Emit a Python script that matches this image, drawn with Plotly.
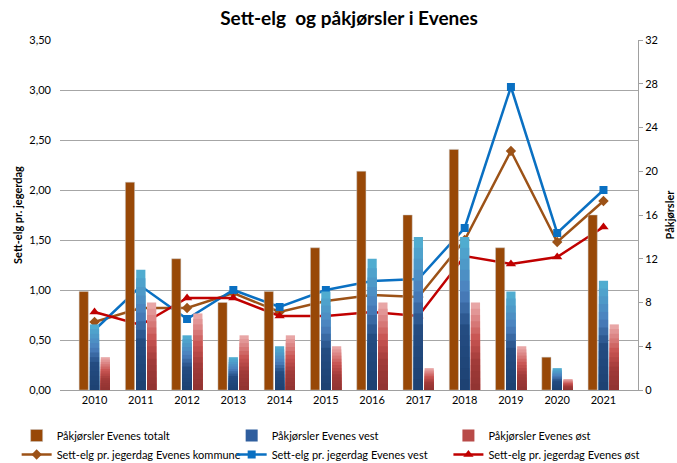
import plotly.graph_objects as go

years = ["2010", "2011", "2012", "2013", "2014", "2015", "2016", "2017", "2018", "2019", "2020", "2021"]
pak_totalt = [9, 19, 12, 8, 9, 13, 20, 16, 22, 13, 3, 16]
pak_vest = [6, 11, 5, 3, 4, 9, 12, 14, 14, 9, 2, 10]
pak_ost = [3, 8, 7, 5, 5, 4, 8, 2, 8, 4, 1, 6]
sett_kommune = [0.68, 0.82, 0.82, 0.97, 0.78, 0.89, 0.95, 0.93, 1.50, 2.39, 1.48, 1.89]
sett_vest = [0.60, 1.04, 0.71, 1.00, 0.83, 1.00, 1.09, 1.11, 1.62, 3.03, 1.57, 2.00]
sett_ost = [0.78, 0.65, 0.92, 0.92, 0.74, 0.74, 0.78, 0.74, 1.34, 1.26, 1.33, 1.63]

FONT = "Lato"
N = 14


def lerp(c1, c2, t):
    return tuple(int(round(a + (b - a) * t)) for a, b in zip(c1, c2))


def grad(stops, t):
    for (p1, c1), (p2, c2) in zip(stops, stops[1:]):
        if p1 <= t <= p2:
            return lerp(c1, c2, (t - p1) / (p2 - p1) if p2 > p1 else 0)
    return stops[-1][1]


blue_stops = [(0.0, (80, 172, 208)), (0.35, (76, 128, 190)), (0.6, (36, 76, 130)), (1.0, (30, 66, 115))]
red_stops = [(0.0, (232, 166, 166)), (0.4, (200, 84, 82)), (0.7, (160, 58, 56)), (1.0, (146, 52, 50))]

fig = go.Figure()

fig.add_trace(go.Bar(
    x=years, y=pak_totalt, name="Påkjørsler Evenes totalt", yaxis="y2",
    offsetgroup="tot", marker=dict(color="#984807", line=dict(width=0.6, color="rgba(200,200,200,0.8)")),
    legend="legend", legendrank=1,
))


def add_grad(values, stops, name, group, legend, legend_color):
    for k in range(N):
        frac = (N - k) / N
        t = k / (N - 1)
        c = grad(stops, t)
        fig.add_trace(go.Bar(
            x=years, y=[v * frac for v in values], yaxis="y2", offsetgroup=group,
            marker=dict(color="rgb(%d,%d,%d)" % c, line=dict(width=0)),
            showlegend=False, hoverinfo="skip",
        ))
    fig.add_trace(go.Bar(
        x=years, y=[0 for _ in values], yaxis="y2", offsetgroup=group, name=name,
        marker=dict(color=legend_color, line=dict(width=0)), legend=legend, legendrank=1,
        hoverinfo="skip",
    ))


add_grad(pak_vest, blue_stops, "Påkjørsler Evenes vest", "vest", "legend2", "#2F5E9E")
add_grad(pak_ost, red_stops, "Påkjørsler Evenes øst", "ost", "legend3", "#B84A48")

fig.add_trace(go.Scatter(
    x=years, y=sett_kommune, name="Sett-elg pr. jegerdag Evenes kommune", mode="lines+markers",
    line=dict(color="#9C5217", width=2.5), marker=dict(symbol="diamond", size=8, color="#9C5217"),
    legend="legend", legendrank=2,
))
fig.add_trace(go.Scatter(
    x=years, y=sett_vest, name="Sett-elg pr. jegerdag Evenes vest", mode="lines+markers",
    line=dict(color="#0A70C2", width=2.5), marker=dict(symbol="square", size=8, color="#0A70C2"),
    legend="legend2", legendrank=2,
))
fig.add_trace(go.Scatter(
    x=years, y=sett_ost, name="Sett-elg pr. jegerdag Evenes øst", mode="lines+markers",
    line=dict(color="#C00000", width=2.5), marker=dict(symbol="triangle-up", size=9, color="#C00000"),
    legend="legend3", legendrank=2,
))

leg_common = dict(orientation="v", yanchor="top", y=-0.1 + 4 / 350, xanchor="left",
                  font=dict(family=FONT, size=11, color="#000000"), bgcolor="rgba(0,0,0,0)",
                  itemwidth=30, tracegroupgap=0, traceorder="normal")

fig.update_layout(
    width=677, height=463,
    margin=dict(l=60, r=39, t=40, b=73, autoexpand=False),
    paper_bgcolor="white", plot_bgcolor="white",
    separators=",.",
    barmode="group", bargap=0.3, bargroupgap=0.15,
    font=dict(family=FONT, size=11, color="#000000"),
    title=dict(text="Sett-elg\u00a0 og påkjørsler i Evenes", x=0.5, xref="paper", xanchor="center",
               y=1 - 18 / 463, yanchor="middle", font=dict(family=FONT, size=19, color="#000000", weight="bold")),
    xaxis=dict(type="category", showgrid=False, showline=True, linecolor="#A0A0A0", linewidth=1,
               ticks="", tickfont=dict(family=FONT, size=11), automargin=False),
    yaxis=dict(range=[0, 3.5], dtick=0.5, tickformat=".2f", showgrid=True, gridcolor="#A6A6A6", gridwidth=1,
               showline=False, zeroline=False, ticks="", ticklabelstandoff=8, automargin=False,
               tickfont=dict(family=FONT, size=11),
               title=dict(text="Sett-elg pr. jegerdag", font=dict(family=FONT, size=11, weight="bold"), standoff=4)),
    yaxis2=dict(range=[0, 32], dtick=4, overlaying="y", side="right", showgrid=False, zeroline=False,
                showline=True, linecolor="#A0A0A0", linewidth=1, ticks="outside", ticklen=4, tickcolor="#A0A0A0",
                tickfont=dict(family=FONT, size=11), automargin=False,
                title=dict(text="Påkjørsler", font=dict(family=FONT, size=11, weight="bold"), standoff=8)),
    legend=dict(x=-0.075, **leg_common),
    legend2=dict(x=0.297, **leg_common),
    legend3=dict(x=0.672, **leg_common),
)

fig.write_html("out.html", config={"displayModeBar": False},
               post_script="document.body.style.margin='0';document.body.style.padding='0';")
